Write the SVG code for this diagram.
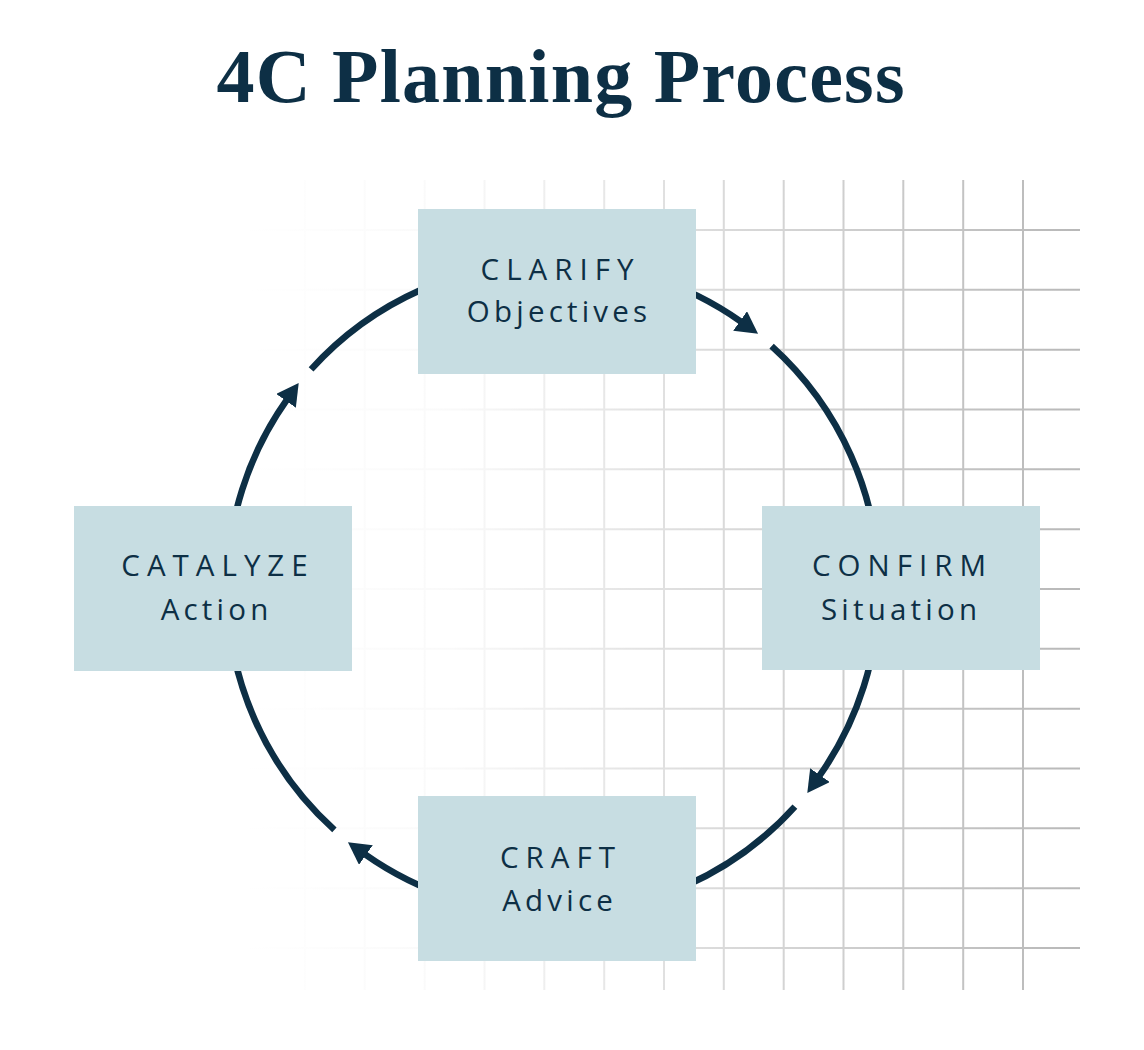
<svg xmlns="http://www.w3.org/2000/svg" width="1144" height="1050" viewBox="0 0 1144 1050">
  <defs>
    <linearGradient id="gridGrad" gradientUnits="userSpaceOnUse" x1="245" y1="0" x2="1080" y2="0">
      <stop offset="0" stop-color="#b8b8b8" stop-opacity="0"/>
      <stop offset="0.25" stop-color="#b8b8b8" stop-opacity="0.08"/>
      <stop offset="0.55" stop-color="#b8b8b8" stop-opacity="0.5"/>
      <stop offset="1" stop-color="#b8b8b8" stop-opacity="1"/>
    </linearGradient>
    <marker id="ah" viewBox="0 -12 22 24" refX="1" refY="0" markerWidth="22" markerHeight="24" orient="auto" markerUnits="userSpaceOnUse">
      <path d="M0,-12 L22,0 L0,12 Z" fill="#0d2f45"/>
    </marker>
  </defs>
  <style>
    .title { font-family: "Liberation Serif", "DejaVu Serif", serif; font-weight: bold; font-size: 76px; fill: #0d2f45; }
    .box { fill: #c7dde2; }
    .l1 { font-family: "Open Sans", "Noto Sans", "Liberation Sans", sans-serif; font-size: 29.5px; fill: #0d2f45; letter-spacing: 7px; text-anchor: middle; }
    .l2 { font-family: "Open Sans", "Noto Sans", "Liberation Sans", sans-serif; font-size: 29.5px; fill: #0d2f45; letter-spacing: 4.2px; text-anchor: middle; }
    .arc { fill: none; stroke: #0d2f45; stroke-width: 6.5; stroke-linecap: butt; }
    .grid { fill: none; stroke: url(#gridGrad); stroke-width: 2; }
  </style>
  <rect x="0" y="0" width="1144" height="1050" fill="#ffffff"/>

  <g id="grid">
    <path class="grid" d="M305,180 V990 M364.8,180 V990 M424.7,180 V990 M484.5,180 V990 M544.3,180 V990 M604.2,180 V990 M664,180 V990 M723.8,180 V990 M783.7,180 V990 M843.5,180 V990 M903.3,180 V990 M963.2,180 V990 M1023,180 V990
      M245,230 H1080 M245,289.8 H1080 M245,349.7 H1080 M245,409.5 H1080 M245,469.3 H1080 M245,529.2 H1080 M245,589 H1080 M245,648.8 H1080 M245,708.7 H1080 M245,768.5 H1080 M245,828.3 H1080 M245,888.2 H1080 M245,948 H1080"/>
  </g>

  <text id="title" class="title" x="560.5" y="102" text-anchor="middle" textLength="688" lengthAdjust="spacing">4C Planning Process</text>

  <g id="connectors">
    <g id="c-clarify-confirm">
      <path class="arc" d="M553,262 A326,326 0 0 1 740.9,321.6" marker-end="url(#ah)"/>
      <path class="arc" d="M771.6,346.1 A326,326 0 0 1 879,588"/>
    </g>
    <g id="c-confirm-craft">
      <path class="arc" d="M879,588 A326,326 0 0 1 819.4,775.9" marker-end="url(#ah)"/>
      <path class="arc" d="M794.9,806.6 A326,326 0 0 1 553,914"/>
    </g>
    <g id="c-craft-catalyze">
      <path class="arc" d="M553,914 A326,326 0 0 1 365.1,854.4" marker-end="url(#ah)"/>
      <path class="arc" d="M334.4,829.9 A326,326 0 0 1 227,588"/>
    </g>
    <g id="c-catalyze-clarify">
      <path class="arc" d="M227,588 A326,326 0 0 1 286.6,400.1" marker-end="url(#ah)"/>
      <path class="arc" d="M311.1,369.4 A326,326 0 0 1 553,262"/>
    </g>
  </g>

  <g id="node-clarify">
    <rect class="box" x="418" y="209" width="278" height="165"/>
    <text class="l1" x="560.5" y="279.5">CLARIFY</text>
    <text class="l2" x="559.1" y="322">Objectives</text>
  </g>
  <g id="node-confirm">
    <rect class="box" x="762" y="506" width="278" height="164"/>
    <text class="l1" x="902.5" y="575.5">CONFIRM</text>
    <text class="l2" x="901.1" y="619.5">Situation</text>
  </g>
  <g id="node-craft">
    <rect class="box" x="418" y="796" width="278" height="165"/>
    <text class="l1" x="561" y="868">CRAFT</text>
    <text class="l2" x="559.6" y="910.5">Advice</text>
  </g>
  <g id="node-catalyze">
    <rect class="box" x="74" y="506" width="278" height="165"/>
    <text class="l1" x="218" y="576">CATALYZE</text>
    <text class="l2" x="216.6" y="619.5">Action</text>
  </g>
</svg>
